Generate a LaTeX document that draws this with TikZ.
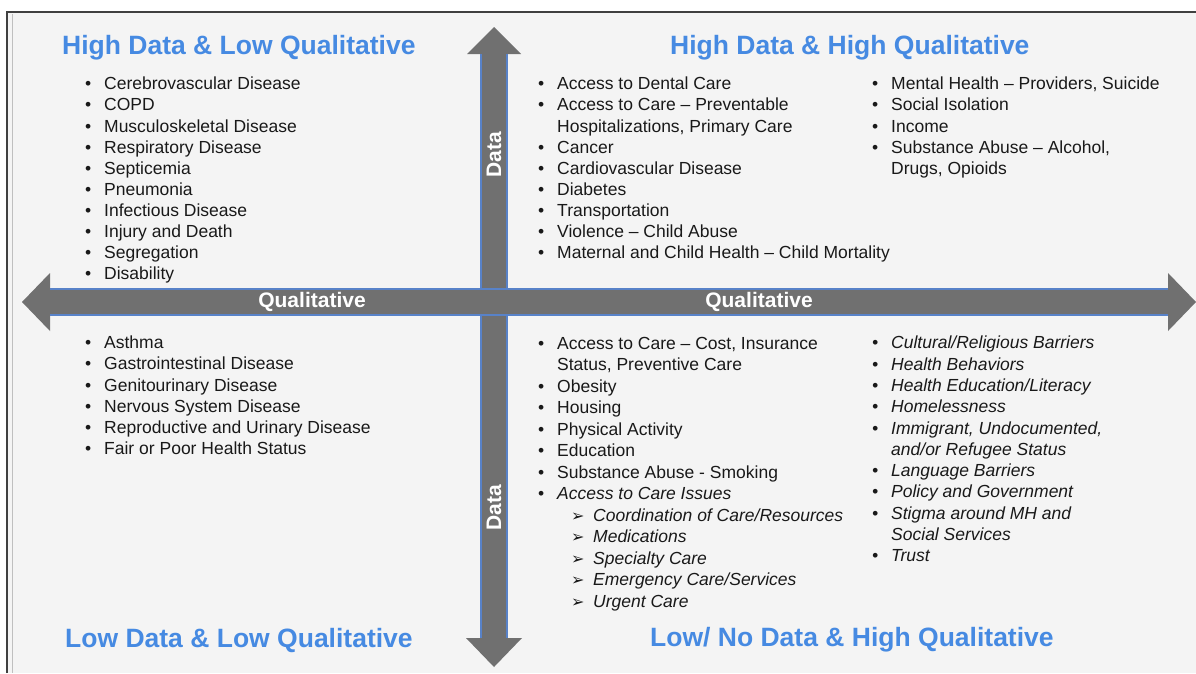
\documentclass[tikz,border=0pt]{standalone}
\usepackage{fontspec}
\setmainfont{Liberation Sans}
\newfontfamily\symfont{DejaVu Sans}
\usepackage{tikz}

\definecolor{titleblue}{RGB}{70,138,226}
\definecolor{axisgray}{RGB}{112,112,112}
\definecolor{axisedge}{RGB}{88,130,200}
\definecolor{paper}{RGB}{244,244,244}
\definecolor{txt}{RGB}{25,25,25}

\newcommand{\itm}[1]{\makebox[19pt][l]{•}#1}
\newcommand{\cnt}[1]{\hspace*{19pt}#1}
\newcommand{\sub}[1]{\hspace*{33pt}\makebox[22pt][l]{\symfont\fontsize{16}{18}\selectfont ➢}#1}

\tikzset{
  quadtitle/.style={anchor=west,inner sep=0pt,text=titleblue,font=\fontsize{26.5}{30}\selectfont\bfseries},
  listcol/.style={anchor=north west,inner sep=0pt,align=left,text=txt,font=\fontsize{17.5}{21.1}\selectfont},
  axislabel/.style={inner sep=0pt,text=white,font=\fontsize{21}{24}\selectfont\bfseries},
  axisline/.style={axisedge,line width=1.4pt}
}

\begin{document}
\begin{tikzpicture}[x=1pt,y=-1pt]
\useasboundingbox (0,0) rectangle (1196,673);
% frame
\fill[white] (0,0) rectangle (1196,673);
\fill[paper] (8,12) rectangle (1196,673);
\draw[black!75,line width=1.6pt] (7,673) -- (7,12) -- (1196,12);
\draw[black!25,line width=0.8pt] (12,14) -- (12,673);

% data axis (vertical)
\fill[axisgray] (494,27) -- (521,54) -- (507,54) -- (507,638) -- (522,638) -- (494,667) -- (466,638) -- (481,638) -- (481,54) -- (467,54) -- cycle;
\draw[axisline] (481,54) -- (481,638);
\draw[axisline] (507,54) -- (507,638);

% qualitative axis (horizontal)
\fill[axisgray] (22,302) -- (50,273) -- (50,289) -- (1168,289) -- (1168,273) -- (1196,302) -- (1168,331) -- (1168,315) -- (50,315) -- (50,331) -- cycle;
\draw[axisline] (50,289) -- (1168,289);
\draw[axisline] (50,315) -- (1168,315);

\node[axislabel] (qual_l) at (312,302) {Qualitative};
\node[axislabel] (qual_r) at (759,302) {Qualitative};
\node[axislabel,rotate=90] (data_t) at (494,155) {Data};
\node[axislabel,rotate=90] (data_b) at (494,508) {Data};

% quadrant titles
\node[quadtitle] (t_hl) at (62,48) {High Data \& Low Qualitative};
\node[quadtitle] (t_hh) at (670,48) {High Data \& High Qualitative};
\node[quadtitle] (t_ll) at (65,640) {Low Data \& Low Qualitative};
\node[quadtitle] (t_lh) at (650,640) {Low/ No Data \& High Qualitative};

% high data & low qualitative
\node[listcol] (l_hl) at (85,77) {\itm{Cerebrovascular Disease}\\\itm{COPD}\\\itm{Musculoskeletal Disease}\\\itm{Respiratory Disease}\\\itm{Septicemia}\\\itm{Pneumonia}\\\itm{Infectious Disease}\\\itm{Injury and Death}\\\itm{Segregation}\\\itm{Disability}};

% high data & high qualitative
\node[listcol] (l_hh1) at (538,77) {\itm{Access to Dental Care}\\\itm{Access to Care – Preventable}\\\cnt{Hospitalizations, Primary Care}\\\itm{Cancer}\\\itm{Cardiovascular Disease}\\\itm{Diabetes}\\\itm{Transportation}\\\itm{Violence – Child Abuse}\\\itm{Maternal and Child Health – Child Mortality}};
\node[listcol] (l_hh2) at (872,77) {\itm{Mental Health – Providers, Suicide}\\\itm{Social Isolation}\\\itm{Income}\\\itm{Substance Abuse – Alcohol,}\\\cnt{Drugs, Opioids}};

% low data & low qualitative
\node[listcol] (l_ll) at (85,336) {\itm{Asthma}\\\itm{Gastrointestinal Disease}\\\itm{Genitourinary Disease}\\\itm{Nervous System Disease}\\\itm{Reproductive and Urinary Disease}\\\itm{Fair or Poor Health Status}};

% low data & high qualitative
\node[listcol,font=\fontsize{17.5}{21.5}\selectfont] (l_lh1) at (538,337) {\itm{Access to Care – Cost, Insurance}\\\cnt{Status, Preventive Care}\\\itm{Obesity}\\\itm{Housing}\\\itm{Physical Activity}\\\itm{Education}\\\itm{Substance Abuse - Smoking}\\\itm{\itshape Access to Care Issues}\\\sub{\itshape Coordination of Care/Resources}\\\sub{\itshape Medications}\\\sub{\itshape Specialty Care}\\\sub{\itshape Emergency Care/Services}\\\sub{\itshape Urgent Care}};
\node[listcol,font=\fontsize{17.5}{21.3}\selectfont\itshape] (l_lh2) at (872,336) {\itm{Cultural/Religious Barriers}\\\itm{Health Behaviors}\\\itm{Health Education/Literacy}\\\itm{Homelessness}\\\itm{Immigrant, Undocumented,}\\\cnt{and/or Refugee Status}\\\itm{Language Barriers}\\\itm{Policy and Government}\\\itm{Stigma around MH and}\\\cnt{Social Services}\\\itm{Trust}};
\end{tikzpicture}
\end{document}
